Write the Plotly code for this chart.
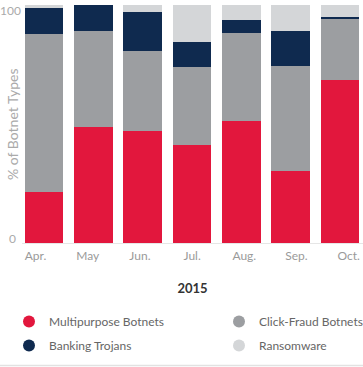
import plotly.graph_objects as go

months = ["Apr.", "May", "Jun.", "Jul.", "Aug.", "Sep.", "Oct."]
multipurpose = [21.6, 48.8, 47.0, 41.4, 51.5, 30.5, 68.8]
click_fraud = [66.5, 40.5, 33.7, 32.6, 36.8, 44.2, 25.7]
banking = [10.8, 10.7, 16.6, 10.7, 5.5, 14.6, 0.6]
ransomware = [1.1, 0.0, 2.7, 15.3, 6.2, 10.7, 4.9]
y_tick_low = [0]
y_tick_high = [100]

series = [
    ("Multipurpose Botnets", multipurpose, "#E2173D", "legend"),
    ("Click-Fraud Botnets", click_fraud, "#9C9EA1", "legend2"),
    ("Banking Trojans", banking, "#0F2A4F", "legend"),
    ("Ransomware", ransomware, "#D4D6D8", "legend2"),
]

FONT = "Lato, Open Sans, sans-serif"
fig = go.Figure()
for name, vals, color, lg in series:
    fig.add_trace(go.Bar(x=months, y=vals, name=name, marker_color=color,
                         marker_line_width=0, showlegend=False))
order = [0, 2, 1, 3]
for i in order:
    name, vals, color, lg = series[i]
    fig.add_trace(go.Scatter(x=[None], y=[None], mode="markers", name=name,
                             xaxis="x2", yaxis="y2",
                             marker=dict(symbol="circle", size=12, color=color),
                             legend=lg, legendgroup=name, showlegend=True))

YR = [0, 100.2]
fig.update_layout(
    width=363, height=367,
    margin=dict(l=22, r=0, t=5, b=124, autoexpand=False),
    barmode="stack", bargap=0.22,
    paper_bgcolor="white", plot_bgcolor="white",
    font=dict(family=FONT, color="#999999", size=12),
    xaxis=dict(range=[-0.446, 6.467], showgrid=False, showline=True,
               linecolor="#E6E6E6", linewidth=1, ticks="",
               showticklabels=False, automargin=False),
    xaxis2=dict(overlaying="x", anchor="y", side="bottom",
                range=[-0.2586, 6.274], tickmode="array",
                tickvals=list(range(len(months))), ticktext=months,
                showgrid=False, showline=False, zeroline=False, ticks="",
                tickangle=0, automargin=False, ticklabelstandoff=4,
                tickfont=dict(size=12, color="#9A9A9A"),
                title=dict(text="<b>2015</b>", font=dict(size=13, color="#333333"),
                           standoff=21)),
    yaxis=dict(range=YR, tickvals=y_tick_low, showgrid=False,
               showline=False, zeroline=False, ticks="", automargin=False,
               ticklabelshift=-4,
               tickfont=dict(size=12, color="#AAAAAA"), ticklabelstandoff=5),
    yaxis2=dict(overlaying="y", anchor="x", side="left", range=YR,
                tickvals=y_tick_high, showgrid=False, showline=False,
                zeroline=False, ticks="", automargin=False, ticklabelshift=5,
                tickfont=dict(size=12, color="#AAAAAA"), ticklabelstandoff=0),
    legend=dict(xref="container", yref="container", x=9/363, y=1 - 307/367,
                xanchor="left", yanchor="top", orientation="v",
                tracegroupgap=5, font=dict(size=12, color="#666666"),
                bgcolor="rgba(0,0,0,0)"),
    legend2=dict(xref="container", yref="container", x=219/363, y=1 - 307/367,
                 xanchor="left", yanchor="top", orientation="v",
                 tracegroupgap=5, font=dict(size=12, color="#666666"),
                 bgcolor="rgba(0,0,0,0)"),
    annotations=[dict(text="% of Botnet Types", textangle=-90, xref="paper",
                      yref="paper", x=-10/341, y=0.5, xanchor="center",
                      yanchor="middle", showarrow=False,
                      font=dict(size=14, color="#AAAAAA"))],
    shapes=[dict(type="line", xref="paper", yref="paper",
                 x0=-22/341, x1=1.0, y0=(243 - 365.5) / 238,
                 y1=(243 - 365.5) / 238,
                 line=dict(color="#E2E2E2", width=1.5))],
)
fig.write_html("out.html")
